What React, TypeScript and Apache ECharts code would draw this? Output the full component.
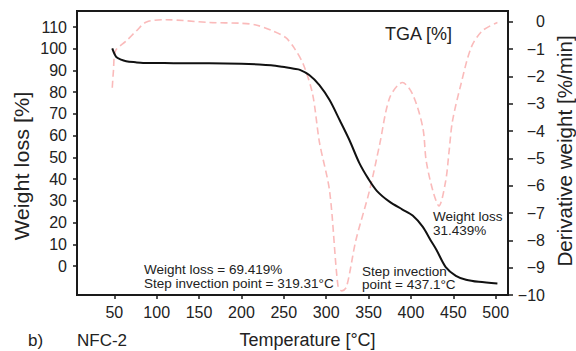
import React, { useEffect, useRef } from "react";
import * as echarts from "echarts";

// TGA curve (weight %, left axis)
const tgaTemp = [47.6, 52.2, 58, 64, 75, 84, 120, 162, 200, 221, 235, 248, 262, 269, 280, 292, 304, 316, 327.5, 339, 350, 360, 375, 390, 402, 414, 423, 430, 441, 453, 465, 480, 502];
const tgaWeight = [100.2, 96.3, 95, 94.3, 93.8, 93.5, 93.4, 93.3, 93.1, 92.8, 92.4, 91.7, 90.8, 90.3, 87.9, 83.3, 76.4, 67.1, 57.9, 47.5, 40, 34.5, 29.5, 26, 23.2, 18, 12, 7.5, -0.5, -4.5, -6.3, -7.3, -8.1];

// DTG curve (derivative weight %/min, right axis)
const dtgTemp = [47.6, 49, 51.4, 64, 76, 88, 111, 162, 200, 217, 237, 252, 262, 273, 284, 292, 304, 314, 318.5, 324, 335, 351, 363, 375, 390, 402, 414, 418, 426, 433, 441, 445, 449, 459, 471, 484, 502];
const dtgRate = [-2.41, -1.79, -1.06, -0.7, -0.33, 0.0, 0.08, -0.02, -0.05, -0.11, -0.33, -0.57, -0.94, -1.55, -2.65, -4.4, -6.19, -9.7, -9.85, -9.7, -8.0, -6.19, -4.5, -2.77, -2.22, -2.65, -3.87, -5.09, -6.2, -6.74, -5.82, -4.73, -3.63, -2.28, -0.94, -0.33, -0.02];

// Tick labels
const xTicks = [50, 100, 150, 200, 250, 300, 350, 400, 450, 500];
const leftTicks = [0, 10, 20, 30, 40, 50, 60, 70, 80, 90, 100, 110];
const rightTicks = [0, -1, -2, -3, -4, -5, -6, -7, -8, -9, -10];

const FONT = '"Liberation Sans", Arial, Helvetica, sans-serif';
const TXT = "#222";

export default function App() {
  const ref = useRef<HTMLDivElement>(null);
  useEffect(() => {
    document.body.style.margin = "0";
    if (!ref.current) return;
    const chart = echarts.init(ref.current, null, { renderer: "svg" });
    const tgaData = tgaTemp.map((t, i) => [t, tgaWeight[i]]);
    const dtgData = dtgTemp.map((t, i) => [t, dtgRate[i]]);
    const text = (x: number, y: number, t: string, size: number, extra: any = {}) => ({
      type: "text",
      x,
      y,
      rotation: extra.rotation || 0,
      scaleX: extra.scaleX || 1,
      scaleY: extra.scaleY || 1,
      style: {
        text: t,
        font: `${size}px ${FONT}`,
        fill: TXT,
        align: extra.align || "left",
        verticalAlign: extra.verticalAlign || "middle",
        lineHeight: extra.lineHeight,
      },
    });
    chart.setOption({
      animation: false,
      grid: {
        left: 77,
        right: 68,
        top: 11,
        bottom: 56,
        show: true,
        borderColor: "#1a1a1a",
        borderWidth: 2,
        backgroundColor: "transparent",
      },
      xAxis: {
        type: "value",
        min: 6,
        max: 514.5,
        splitLine: { show: false },
        axisLine: { show: true, onZero: false, lineStyle: { color: "#1a1a1a", width: 2 } },
        axisTick: { show: true, length: 4, customValues: xTicks, lineStyle: { color: "#1a1a1a", width: 1.5 } },
        axisLabel: { customValues: xTicks, margin: 9, fontSize: 16, color: TXT, fontFamily: FONT },
      },
      yAxis: [
        {
          type: "value",
          position: "left",
          min: -13.35,
          max: 117.4,
          splitLine: { show: false },
          axisLine: { show: true, onZero: false, lineStyle: { color: "#1a1a1a", width: 2 } },
          axisTick: { show: true, length: 4, customValues: leftTicks, lineStyle: { color: "#1a1a1a", width: 1.5 } },
          axisLabel: { customValues: leftTicks, margin: 10, fontSize: 16, color: TXT, fontFamily: FONT },
        },
        {
          type: "value",
          position: "right",
          min: -10,
          max: 0.4,
          splitLine: { show: false },
          axisLine: { show: true, onZero: false, lineStyle: { color: "#1a1a1a", width: 2 } },
          axisTick: { show: true, length: 5, customValues: rightTicks, lineStyle: { color: "#1a1a1a", width: 1.5 } },
          axisLabel: {
            customValues: rightTicks,
            margin: 37,
            align: "right",
            fontSize: 16,
            color: TXT,
            fontFamily: FONT,
            formatter: (v: number) => String(v).replace("-", "\u2212"),
          },
        },
      ],
      series: [
        {
          name: "DTG",
          type: "line",
          yAxisIndex: 1,
          data: dtgData,
          showSymbol: false,
          smooth: 0.3,
          z: 1,
          lineStyle: { color: "rgba(245,130,130,0.55)", width: 1.6, type: [7, 4] },
        },
        {
          name: "TGA",
          type: "line",
          yAxisIndex: 0,
          data: tgaData,
          showSymbol: false,
          smooth: 0.3,
          z: 3,
          lineStyle: { color: "#111", width: 2 },
        },
      ],
      graphic: [
        text(22, 166, "Weight loss [%]", 20, { rotation: Math.PI / 2, align: "center", scaleX: 1.08 }),
        text(565, 151, "Derivative weight [%/min]", 20, { rotation: Math.PI / 2, align: "center", scaleX: 1.03 }),
        text(307.5, 340, "Temperature [°C]", 18, { align: "center" }),
        text(28, 340, "b)", 17),
        text(77, 340, "NFC-2", 17),
        text(385, 34, "TGA [%]", 18),
        text(144, 263, "Weight loss = 69.419%\nStep invection point = 319.31°C", 13.5, { verticalAlign: "top", lineHeight: 13.5 }),
        text(362, 264.5, "Step invection\npoint = 437.1°C", 13.5, { verticalAlign: "top", lineHeight: 13.5 }),
        text(433, 210, "Weight loss\n31.439%", 13.5, { verticalAlign: "top", lineHeight: 13.5 }),
      ],
    });
    return () => chart.dispose();
  }, []);
  return <div ref={ref} style={{ width: 576, height: 351 }} />;
}
